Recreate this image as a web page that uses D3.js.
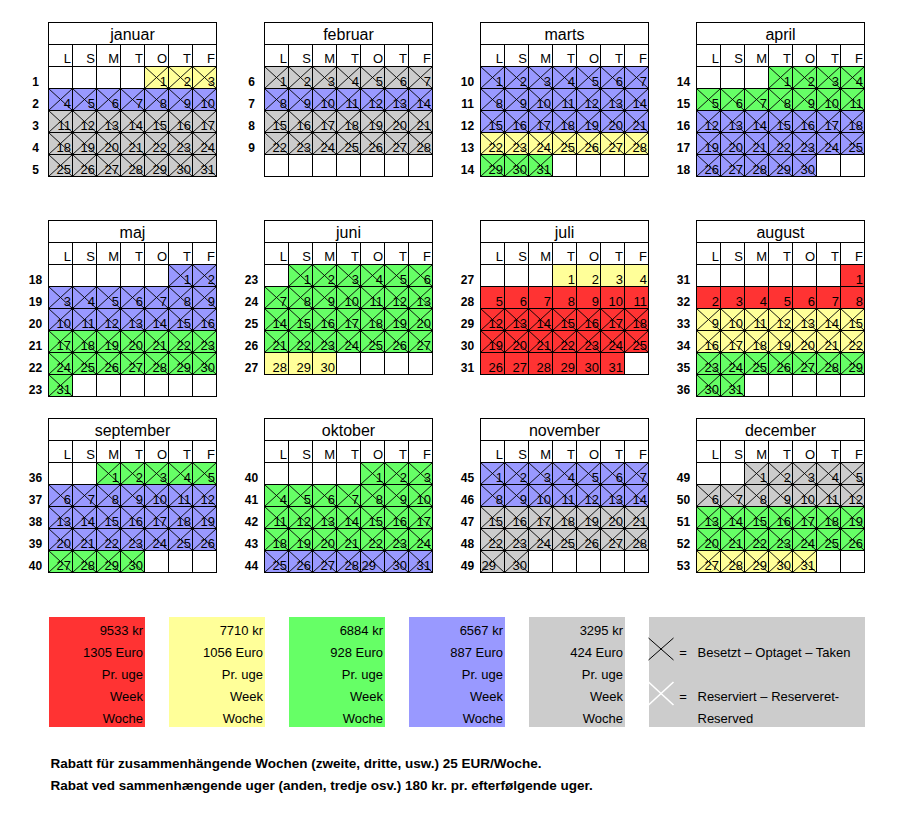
<!DOCTYPE html>
<html>
<head>
<meta charset="utf-8">
<script src="https://cdn.jsdelivr.net/npm/d3@7/dist/d3.min.js"></script>
<style>
  html, body { margin: 0; padding: 0; background: #fff; }
  svg { display: block; }
  text { font-family: Arial, "Liberation Sans", sans-serif; }
</style>
</head>
<body>
<script>
// ---------------- DATA ----------------
const YEAR = 2025;
const monthNames = ["januar","februar","marts","april","maj","juni","juli","august","september","oktober","november","december"];
const dayHeaders = ["L","S","M","T","O","T","F"];
const weekNumbers = [
  [1,2,3,4,5],[6,7,8,9,null],[10,11,12,13,14],[14,15,16,17,18],
  [18,19,20,21,22,23],[23,24,25,26,27],[27,28,29,30,31],[31,32,33,34,35,36],
  [36,37,38,39,40],[40,41,42,43,44],[45,46,47,48,49],[49,50,51,52,53]
];
// season per week row (R=red, Y=yellow, G=green, B=blue, S=grey)
const rowSeason = [
  ["Y","B","S","S","S"],
  ["S","B","S","S"],
  ["B","B","B","Y","G"],
  ["G","G","B","B","B"],
  ["B","B","B","G","G","G"],
  ["G","G","G","G","Y"],
  ["Y","R","R","R","R"],
  ["R","R","Y","Y","G","G"],
  ["G","B","B","B","G"],
  ["G","G","G","G","B"],
  ["B","B","S","S","S"],
  ["S","S","G","G","Y"]
];
// 1 = taken (black cross), 0 = free
const rowTaken = [
  [1,1,1,1,1],[1,1,1,1],[1,1,1,1,1],[1,1,1,1,1],
  [1,1,1,1,1,1],[1,1,1,1,0],[0,0,1,1,0],[0,0,1,1,1,1],
  [1,1,1,1,1],[1,1,1,1,1],[1,1,1,1,1],[1,1,1,1,1]
];
// day numbers that are shown left-aligned in the original sheet [month, day]
const leftAlignedDays = [[9,29],[10,29]];

const seasonCodes  = ["R","Y","G","B","S"];
const seasonColors = ["#FF3333","#FFFF99","#66FF66","#9999FF","#CCCCCC"];
const priceKr   = [9533,7710,6884,6567,3295];
const priceEuro = [1305,1056,928,887,424];
const priceLines = ["Pr. uge","Week","Woche"];
const legendTaken = "Besetzt \u2013 Optaget \u2013 Taken";
const legendReserved = ["Reserviert \u2013 Reserveret-","Reserved"];
const footnotes = [
  "Rabatt f\u00fcr zusammenh\u00e4ngende Wochen (zweite, dritte, usw.) 25 EUR/Woche.",
  "Rabat ved sammenh\u00e6ngende uger (anden, tredje osv.) 180 kr. pr. efterf\u00f8lgende uger."
];

// ---------------- LAYOUT ----------------
const W = 907, H = 832;
const rowH = 22;
const gridW = 168;
const svg = d3.select("body").append("svg").attr("width", W).attr("height", H);
svg.append("rect").attr("width", W).attr("height", H).attr("fill", "#fff");

const color = d3.scaleOrdinal().domain(seasonCodes).range(seasonColors);
const monthX = d3.scaleLinear().domain([0, 3]).range([48.5, 48.5 + 3 * 216]);
const blockY = d3.scaleLinear().domain([0, 2]).range([22.5, 22.5 + 2 * 198]);
const colX = d3.scaleBand().domain(d3.range(7)).range([0, gridW]);
const rowY = d3.scaleLinear().domain([0, 1]).range([0, rowH]); // row index -> offset

monthNames.forEach((name, m) => {
  const g = svg.append("g")
    .attr("transform", `translate(${monthX(m % 4)},${blockY(Math.floor(m / 4))})`);

  // title
  g.append("rect").attr("x", 0).attr("y", rowY(0)).attr("width", gridW).attr("height", rowH)
    .attr("fill", "#fff").attr("stroke", "#000").attr("stroke-width", 1);
  g.append("text").attr("x", gridW / 2).attr("y", rowY(1) - 5)
    .attr("text-anchor", "middle").attr("font-size", 16).text(name);

  // header
  dayHeaders.forEach((h, c) => {
    g.append("rect").attr("x", colX(c)).attr("y", rowY(1)).attr("width", colX.bandwidth()).attr("height", rowH)
      .attr("fill", "#fff").attr("stroke", "#000").attr("stroke-width", 1);
    g.append("text").attr("x", colX(c) + colX.bandwidth() - 1.5).attr("y", rowY(2) - 3.5)
      .attr("text-anchor", "end").attr("font-size", 13).text(h);
  });

  // days
  const first = new Date(YEAR, m, 1);
  const days = d3.timeDay.range(first, new Date(YEAR, m + 1, 1));
  const firstCol = (first.getDay() + 1) % 7; // Saturday = 0
  const weeks = weekNumbers[m];

  // empty cells
  weeks.forEach((wk, r) => {
    d3.range(7).forEach(c => {
      g.append("rect").attr("x", colX(c)).attr("y", rowY(r + 2)).attr("width", colX.bandwidth()).attr("height", rowH)
        .attr("fill", "#fff").attr("stroke", "#000").attr("stroke-width", 1);
    });
    if (wk !== null) {
      g.append("text").attr("x", -13).attr("y", rowY(r + 3) - 3)
        .attr("text-anchor", "middle").attr("font-size", 12).attr("font-weight", "bold").text(wk);
    }
  });

  const cells = days.map(d => {
    const day = d.getDate();
    const idx = day - 1 + firstCol;
    return { day, c: idx % 7, r: Math.floor(idx / 7) };
  });
  const taken = new Set(cells.filter(d => rowTaken[m][d.r] === 1).map(d => d.r * 7 + d.c));

  const cg = g.selectAll("g.cell").data(cells).join("g").attr("class", "cell")
    .attr("transform", d => `translate(${colX(d.c)},${rowY(d.r + 2)})`);
  const bw = colX.bandwidth();
  cg.append("rect").attr("width", bw).attr("height", rowH)
    .attr("fill", d => color(rowSeason[m][d.r])).attr("stroke", "#000").attr("stroke-width", 1);
  cg.filter(d => rowTaken[m][d.r] === 1).each(function () {
    const s = d3.select(this);
    s.append("line").attr("x1", 0).attr("y1", 0).attr("x2", bw).attr("y2", rowH).attr("stroke", "#000").attr("stroke-width", 0.9);
    s.append("line").attr("x1", bw).attr("y1", 0).attr("x2", 0).attr("y2", rowH).attr("stroke", "#000").attr("stroke-width", 0.9);
  });
  // junction dots where four crossed cells meet
  const rows = weeks.length;
  for (let r = 1; r < rows; r++) {
    for (let c = 1; c < 7; c++) {
      const k = [ (r - 1) * 7 + c - 1, (r - 1) * 7 + c, r * 7 + c - 1, r * 7 + c ];
      if (k.every(v => taken.has(v))) {
        g.append("circle").attr("cx", colX(c)).attr("cy", rowY(r + 2)).attr("r", 1.4).attr("fill", "#000");
      }
    }
  }
  cg.append("text")
    .attr("x", d => leftAlignedDays.some(a => a[0] === m && a[1] === d.day) ? 1 : bw - 1.5)
    .attr("y", rowH - 3)
    .attr("text-anchor", d => leftAlignedDays.some(a => a[0] === m && a[1] === d.day) ? "start" : "end")
    .attr("font-size", 13).text(d => d.day);
});

// ---------------- LEGEND ----------------
const legX = d3.scaleLinear().domain([0, 1]).range([49, 169]);
const legTop = 617, legH = 110, boxW = 96;
const lineY = d3.scaleLinear().domain([0, 1]).range([634.5, 656.5]);

seasonCodes.forEach((code, i) => {
  const x = legX(i);
  svg.append("rect").attr("x", x).attr("y", legTop).attr("width", boxW).attr("height", legH).attr("fill", color(code));
  const lines = [priceKr[i] + " kr", priceEuro[i] + " Euro"].concat(priceLines);
  lines.forEach((t, j) => {
    svg.append("text").attr("x", x + boxW - 2).attr("y", lineY(j)).attr("text-anchor", "end")
      .attr("font-size", 13).text(t);
  });
});

const kx = legX(5);
svg.append("rect").attr("x", kx).attr("y", legTop).attr("width", 216).attr("height", legH).attr("fill", "#CCCCCC");
function cross(x, y, w, h, col, sw) {
  svg.append("line").attr("x1", x).attr("y1", y).attr("x2", x + w).attr("y2", y + h).attr("stroke", col).attr("stroke-width", sw);
  svg.append("line").attr("x1", x + w).attr("y1", y).attr("x2", x).attr("y2", y + h).attr("stroke", col).attr("stroke-width", sw);
}
cross(kx - 0.5, 638, 25, 22, "#000", 1);
cross(kx - 0.5, 682, 25, 23, "#fff", 1.6);
svg.append("text").attr("x", kx + 34).attr("y", 656.5).attr("text-anchor", "middle").attr("font-size", 13).text("=");
svg.append("text").attr("x", kx + 48.5).attr("y", 656.5).attr("font-size", 13).text(legendTaken);
svg.append("text").attr("x", kx + 34).attr("y", 700.5).attr("text-anchor", "middle").attr("font-size", 13).text("=");
legendReserved.forEach((t, j) => {
  svg.append("text").attr("x", kx + 48.5).attr("y", 700.5 + j * 22).attr("font-size", 13).text(t);
});

// ---------------- FOOTNOTES ----------------
footnotes.forEach((t, j) => {
  svg.append("text").attr("x", 50.5).attr("y", 767.5 + j * 22).attr("font-size", 13.5).attr("font-weight", "bold").text(t);
});
</script>
</body>
</html>
